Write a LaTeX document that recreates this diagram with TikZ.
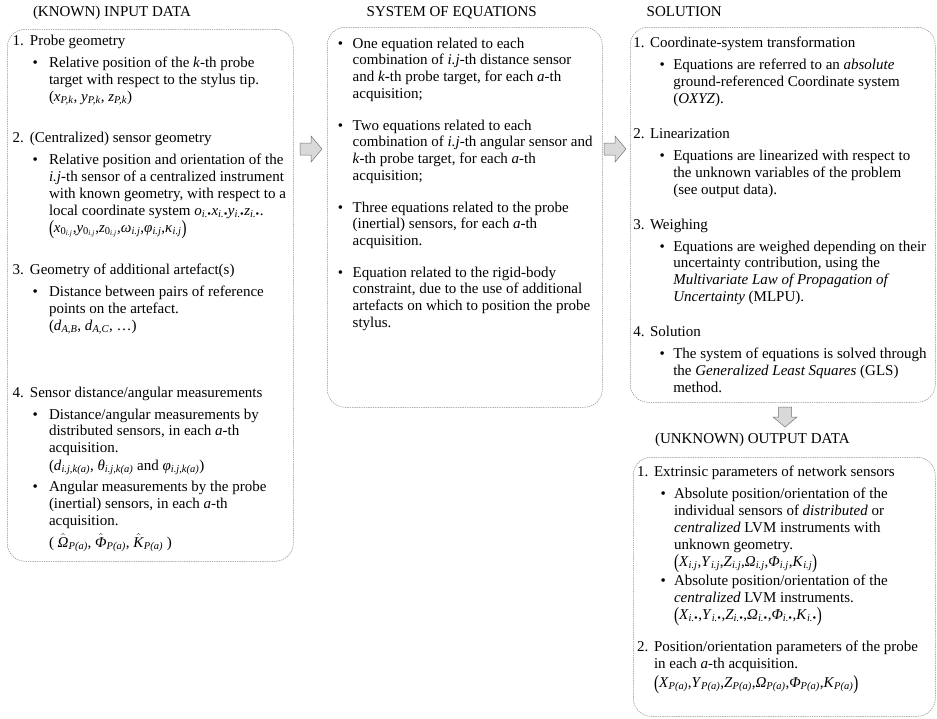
\documentclass[tikz,border=0pt]{standalone}
\usepackage{fontspec}
\usepackage{graphicx}
\setmainfont{Liberation Serif}
\newcommand{\vv}[2]{\textit{#1}\textsubscript{\textit{#2}}}
\newcommand{\bpar}[1]{\raisebox{-2.2pt}{\scalebox{1}[1.35]{#1}}}
\newcommand{\hatit}[1]{$\hat{\hbox{\textit{#1}}}$}
\newcommand{\idot}{\textit{i.}\textbullet}
\tikzset{
  box/.style={draw=black!45, dash pattern=on 1.4pt off 0.9pt, line width=0.5pt,
    rounded corners=18pt, inner sep=0pt, anchor=north west},
  txt/.style={anchor=base west, inner sep=0pt, outer sep=0pt, align=left,
    font=\fontsize{15}{16.9}\selectfont},
  ml/.style={yshift={-(#1-1)*16.9pt}},
  blockarrow/.style={draw=black!55, fill=black!15, line width=0.5pt, line join=miter},
  rarrow/.pic={\draw[blockarrow] (-11,-6) -- (0,-6) -- (0,-13) -- (11,0) -- (0,13) -- (0,6) -- (-11,6) -- cycle;},
  darrow/.pic={\draw[blockarrow] (-6.5,-10) -- (6.5,-10) -- (6.5,0) -- (12,0) -- (0,10) -- (-12,0) -- (-6.5,0) -- cycle;}
}
\begin{document}
\begin{tikzpicture}[x=1pt,y=-1pt]
\useasboundingbox (0,0) rectangle (937,718);
\fill[white] (0,0) rectangle (937,718);

% ---------------- titles
\node[txt] (t1) at (33,16) {(KNOWN) INPUT DATA};
\node[txt] (t2) at (366.7,16) {SYSTEM OF EQUATIONS};
\node[txt] (t3) at (646.7,16) {SOLUTION};
\node[txt] (t4) at (655,443) {(UNKNOWN) OUTPUT DATA};

% ---------------- frames
\node[box, minimum width=286pt, minimum height=532pt] (inbox) at (7,29) {};
\node[box, minimum width=275pt, minimum height=380pt] (eqbox) at (327,27) {};
\node[box, minimum width=305pt, minimum height=375pt] (solbox) at (630,27) {};
\node[box, minimum width=302pt, minimum height=259pt] (outbox) at (633,457) {};

% ---------------- block arrows
\coordinate (arr1) at (311,149);
\coordinate (arr2) at (615,149);
\coordinate (arr3) at (785,417);
\pic at (arr1) {rarrow};
\pic at (arr2) {rarrow};
\pic at (arr3) {darrow};

% ---------------- box 1: input data
\node[txt] (i1) at (12.7,45.5) {\makebox[17.3pt][l]{1.}Probe geometry};
\node[txt] (i1d) at (32.5,67.5) {\textbullet};
\node[txt,ml=2] (i1t) at (49,67.5) {Relative position of the \textit{k}-th probe\\target with respect to the stylus tip.};
\node[txt] (i1f) at (49,101.3) {(\vv{x}{P,k}, \vv{y}{P,k}, \vv{z}{P,k})};

\node[txt] (i2) at (12.7,142.5) {\makebox[17.3pt][l]{2.}(Centralized) sensor geometry};
\node[txt] (i2d) at (32.5,164.5) {\textbullet};
\node[txt,ml=4] (i2t) at (49,164.5) {Relative position and orientation of the\\\textit{i.j}-th sensor of a centralized instrument\\with known geometry, with respect to a\\local coordinate system \textit{o}\textsubscript{\idot}\textit{x}\textsubscript{\idot}\textit{y}\textsubscript{\idot}\textit{z}\textsubscript{\idot}.};
\node[txt] (i2f) at (49,232.1) {\bpar{(}\textit{x}\textsubscript{0\textsubscript{\textit{i.j}}},\textit{y}\textsubscript{0\textsubscript{\textit{i.j}}},\textit{z}\textsubscript{0\textsubscript{\textit{i.j}}},\vv{ω}{i.j},\vv{φ}{i.j},\vv{κ}{i.j}\bpar{)}};

\node[txt] (i3) at (12.7,274.5) {\makebox[17.3pt][l]{3.}Geometry of additional artefact(s)};
\node[txt] (i3d) at (32.5,296.5) {\textbullet};
\node[txt,ml=2] (i3t) at (49,296.5) {Distance between pairs of reference\\points on the artefact.};
\node[txt] (i3f) at (49,330.3) {(\vv{d}{A,B}, \vv{d}{A,C}, …)};

\node[txt] (i4) at (12.7,397) {\makebox[17.3pt][l]{4.}Sensor distance/angular measurements};
\node[txt] (i4d) at (32.5,419) {\textbullet};
\node[txt,ml=3] (i4t) at (49,419) {Distance/angular measurements by\\distributed sensors, in each \textit{a}-th\\acquisition.};
\node[txt] (i4f) at (49,470.5) {(\vv{d}{i.j,k(a)}, \vv{θ}{i.j,k(a)} and \vv{φ}{i.j,k(a)})};
\node[txt] (i5d) at (32.5,491.5) {\textbullet};
\node[txt,ml=3] (i5t) at (49,491.5) {Angular measurements by the probe\\(inertial) sensors, in each \textit{a}-th\\acquisition.};
\node[txt] (i5f) at (49,547) {( \hatit{Ω}\textsubscript{\textit{P(a)}}, \hatit{Φ}\textsubscript{\textit{P(a)}}, \hatit{K}\textsubscript{\textit{P(a)}} )};

% ---------------- box 2: system of equations
\node[txt] (e1d) at (337.8,48) {\textbullet};
\node[txt,ml=4] (e1t) at (352.7,48) {One equation related to each\\combination of \textit{i.j}-th distance sensor\\and \textit{k}-th probe target, for each \textit{a}-th\\acquisition;};
\node[txt] (e2d) at (337.8,130) {\textbullet};
\node[txt,ml=4] (e2t) at (352.7,130) {Two equations related to each\\combination of \textit{i.j}-th angular sensor and\\\textit{k}-th probe target, for each \textit{a}-th\\acquisition;};
\node[txt] (e3d) at (337.8,212) {\textbullet};
\node[txt,ml=3] (e3t) at (352.7,212) {Three equations related to the probe\\(inertial) sensors, for each \textit{a}-th\\acquisition.};
\node[txt] (e4d) at (337.8,277) {\textbullet};
\node[txt,ml=4] (e4t) at (352.7,277) {Equation related to the rigid-body\\constraint, due to the use of additional\\artefacts on which to position the probe\\stylus.};

% ---------------- box 3: solution
\node[txt] (s1) at (633.3,47.8) {\makebox[16.7pt][l]{1.}Coordinate-system transformation};
\node[txt] (s1d) at (659.5,69.8) {\textbullet};
\node[txt,ml=3] (s1t) at (673.3,69.8) {Equations are referred to an \textit{absolute}\\ground-referenced Coordinate system\\(\textit{OXYZ}).};
\node[txt] (s2) at (633.3,138.4) {\makebox[16.7pt][l]{2.}Linearization};
\node[txt] (s2d) at (659.5,160.4) {\textbullet};
\node[txt,ml=3] (s2t) at (673.3,160.4) {Equations are linearized with respect to\\the unknown variables of the problem\\(see output data).};
\node[txt] (s3) at (633.3,229) {\makebox[16.7pt][l]{3.}Weighing};
\node[txt] (s3d) at (659.5,251) {\textbullet};
\node[txt,ml=4] (s3t) at (673.3,251) {Equations are weighed depending on their\\uncertainty contribution, using the\\\textit{Multivariate Law of Propagation of}\\\textit{Uncertainty} (MLPU).};
\node[txt] (s4) at (633.3,336.4) {\makebox[16.7pt][l]{4.}Solution};
\node[txt] (s4d) at (659.5,358.4) {\textbullet};
\node[txt,ml=3] (s4t) at (673.3,358.4) {The system of equations is solved through\\the \textit{Generalized Least Squares} (GLS)\\method.};

% ---------------- box 4: output data
\node[txt] (o1) at (637,476.5) {\makebox[17pt][l]{1.}Extrinsic parameters of network sensors};
\node[txt] (o1d) at (660.5,498.5) {\textbullet};
\node[txt,ml=4] (o1t) at (674,498.5) {Absolute position/orientation of the\\individual sensors of \textit{distributed} or\\\textit{centralized} LVM instruments with\\unknown geometry.};
\node[txt] (o1f) at (674,566.5) {\bpar{(}\vv{X}{i.j},\vv{Y}{i.j},\vv{Z}{i.j},\vv{Ω}{i.j},\vv{Φ}{i.j},\vv{K}{i.j}\bpar{)}};
\node[txt] (o2d) at (660.5,585.5) {\textbullet};
\node[txt,ml=2] (o2t) at (674,585.5) {Absolute position/orientation of the\\\textit{centralized} LVM instruments.};
\node[txt] (o2f) at (674,619.5) {\bpar{(}\textit{X}\textsubscript{\idot},\textit{Y}\textsubscript{\idot},\textit{Z}\textsubscript{\idot},\textit{Ω}\textsubscript{\idot},\textit{Φ}\textsubscript{\idot},\textit{K}\textsubscript{\idot}\bpar{)}};
\node[txt,ml=2] (o3) at (637,651.5) {\makebox[17pt][l]{2.}Position/orientation parameters of the probe\\\hspace*{17pt}in each \textit{a}-th acquisition.};
\node[txt] (o3f) at (654,687.5) {\bpar{(}\vv{X}{P(a)},\vv{Y}{P(a)},\vv{Z}{P(a)},\vv{Ω}{P(a)},\vv{Φ}{P(a)},\vv{K}{P(a)}\bpar{)}};
\end{tikzpicture}
\end{document}
